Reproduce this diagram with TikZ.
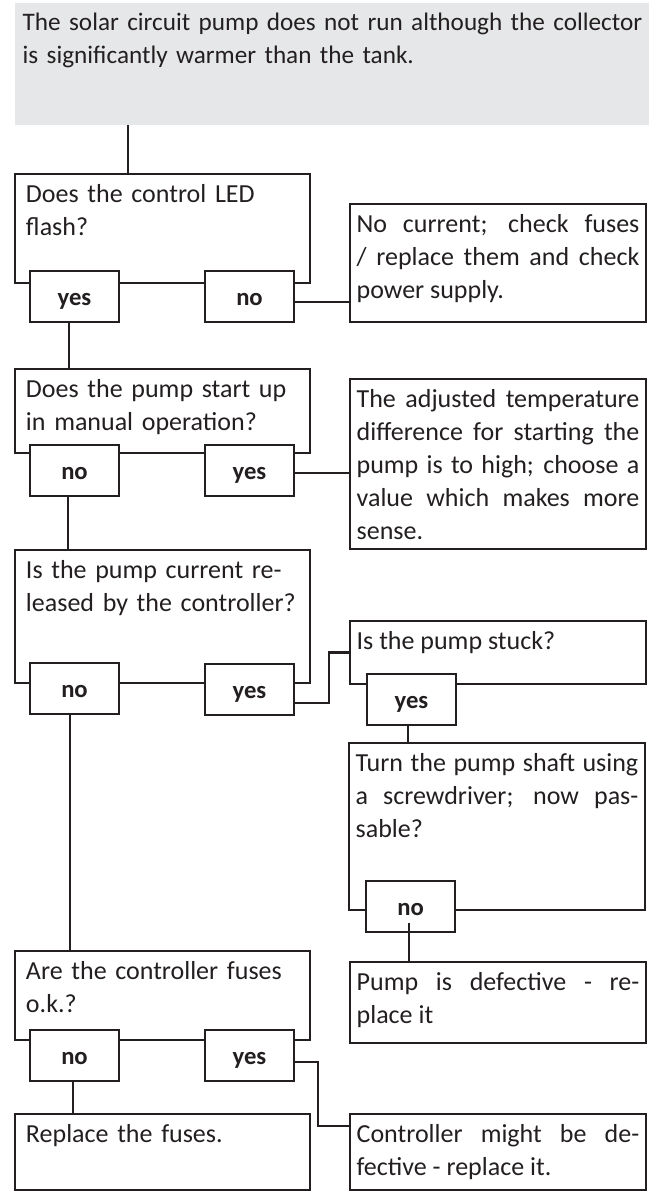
\documentclass[tikz,border=0pt]{standalone}
\usepackage{fontspec}
\setmainfont{Carlito}
\usepackage{xcolor}
\usepackage{tikz}
\usetikzlibrary{positioning,calc}
\definecolor{ink}{HTML}{231F20}
\definecolor{headgray}{HTML}{E6E7E8}

\begin{document}
\begin{tikzpicture}[
  x=0.75pt,y=-0.75pt,
  font=\fontsize{19.5}{24.75}\selectfont,text=ink,
  bx/.style={draw=ink,line width=1.6pt,outer sep=0pt,anchor=north west,text height=14pt,inner ysep=7pt},
  qbx/.style={bx,text width=204.75pt,inner xsep=8.25pt,align=left,text depth=#1},
  abx/.style={bx,text width=212pt,inner xsep=5pt,align=justify,text depth=#1},
  yn/.style={draw=ink,line width=1.6pt,outer sep=0pt,fill=white,anchor=north west,minimum width=66.75pt,minimum height=38.25pt,inner sep=0pt,text height=14pt,text depth=1.2pt,font=\fontsize{18.5}{20}\selectfont\bfseries},
  ln/.style={draw=ink,line width=1.6pt}
]
\useasboundingbox (0,0) rectangle (649,1197);

% problem statement
\node[fill=headgray,outer sep=0pt,anchor=north west,text width=480pt,inner xsep=6pt,inner ysep=6.5pt,text height=14pt,text depth=64.7pt,align=left,font=\fontsize{18.9}{24.75}\selectfont] (head) at (14.7,2.7)
  {The solar circuit pump does not run although the collector\\is significantly warmer than the tank.};

% questions (left column)
\node[qbx=53.75pt] (q1) at (15,174) {Does the control LED\\flash?};
\node[qbx=35pt] (q2) at (15,369) {Does the pump start up\\in manual operation?};
\node[qbx=71.75pt] (q3) at (15,550) {Is the pump current re-\\leased by the controller?};
\node[qbx=38.75pt] (q4) at (15,951) {Are the controller fuses\\o.k.?};
\node[qbx=29pt] (fuse) at (15,1114) {Replace the fuses.};

% answers (right column)
\node[abx=60.5pt] (a1) at (350,204) {No current; check fuses\linebreak / replace them and check\linebreak power supply.};
\node[abx=99.5pt] (a2) at (350,379) {The adjusted temperature\linebreak difference for starting the\linebreak pump is to high; choose a\linebreak value which makes more\linebreak sense.};
\node[abx=19.25pt] (stuck) at (350,621) {Is the pump stuck?};
\node[abx=97.25pt] (turn) at (349,743) {Turn the pump shaft using\linebreak a screwdriver; now pas-\linebreak sable?};
\node[abx=32.75pt] (pdef) at (350,962) {Pump is defective - re-\linebreak place it};
\node[abx=29pt] (ctrl) at (350,1114) {Controller might be de-\linebreak fective - replace it.};

% yes / no tabs
\node[yn] (q1yes) at (30,271) {yes};
\node[yn] (q1no) at (205,271) {no};
\node[yn] (q2no) at (30,445) {no};
\node[yn] (q2yes) at (205,445) {yes};
\node[yn] (q3no) at (30,663) {no};
\node[yn] (q3yes) at (205,664) {yes};
\node[yn] (stuckyes) at (367,674) {yes};
\node[yn] (turnno) at (366,881) {no};
\node[yn] (q4no) at (30,1030) {no};
\node[yn] (q4yes) at (205,1030) {yes};

% connectors
\coordinate (top1) at ([xshift=84.75pt]q1.north west);
\draw[ln] (top1) -- (top1 |- head.south);
\draw[ln] ([yshift=-4pt]q1no.east) -| (a1.west);
\draw[ln] ([xshift=-4pt]q1yes.south) |- (q2.north);
\draw[ln] ([yshift=-2pt]q2yes.east) -| (a2.west);
\draw[ln] ([xshift=-5pt]q2no.south) |- (q3.north);
\draw[ln] ([yshift=-10pt]q3yes.east) -- ++(26.25pt,0) |- (stuck.west);
\draw[ln] ([xshift=-2.5pt]stuckyes.south) |- (turn.north);
\draw[ln,shorten <=-6.75pt] ([xshift=-1pt]turnno.south) |- (pdef.north);
\draw[ln] ([xshift=-3.5pt]q3no.south) |- (q4.north);
\draw[ln] ([xshift=-1pt]q4no.south) |- (fuse.north);
\draw[ln] ([yshift=-5pt]q4yes.east) -- ++(18pt,0) |- ([yshift=19.5pt]ctrl.west);
\end{tikzpicture}
\end{document}
